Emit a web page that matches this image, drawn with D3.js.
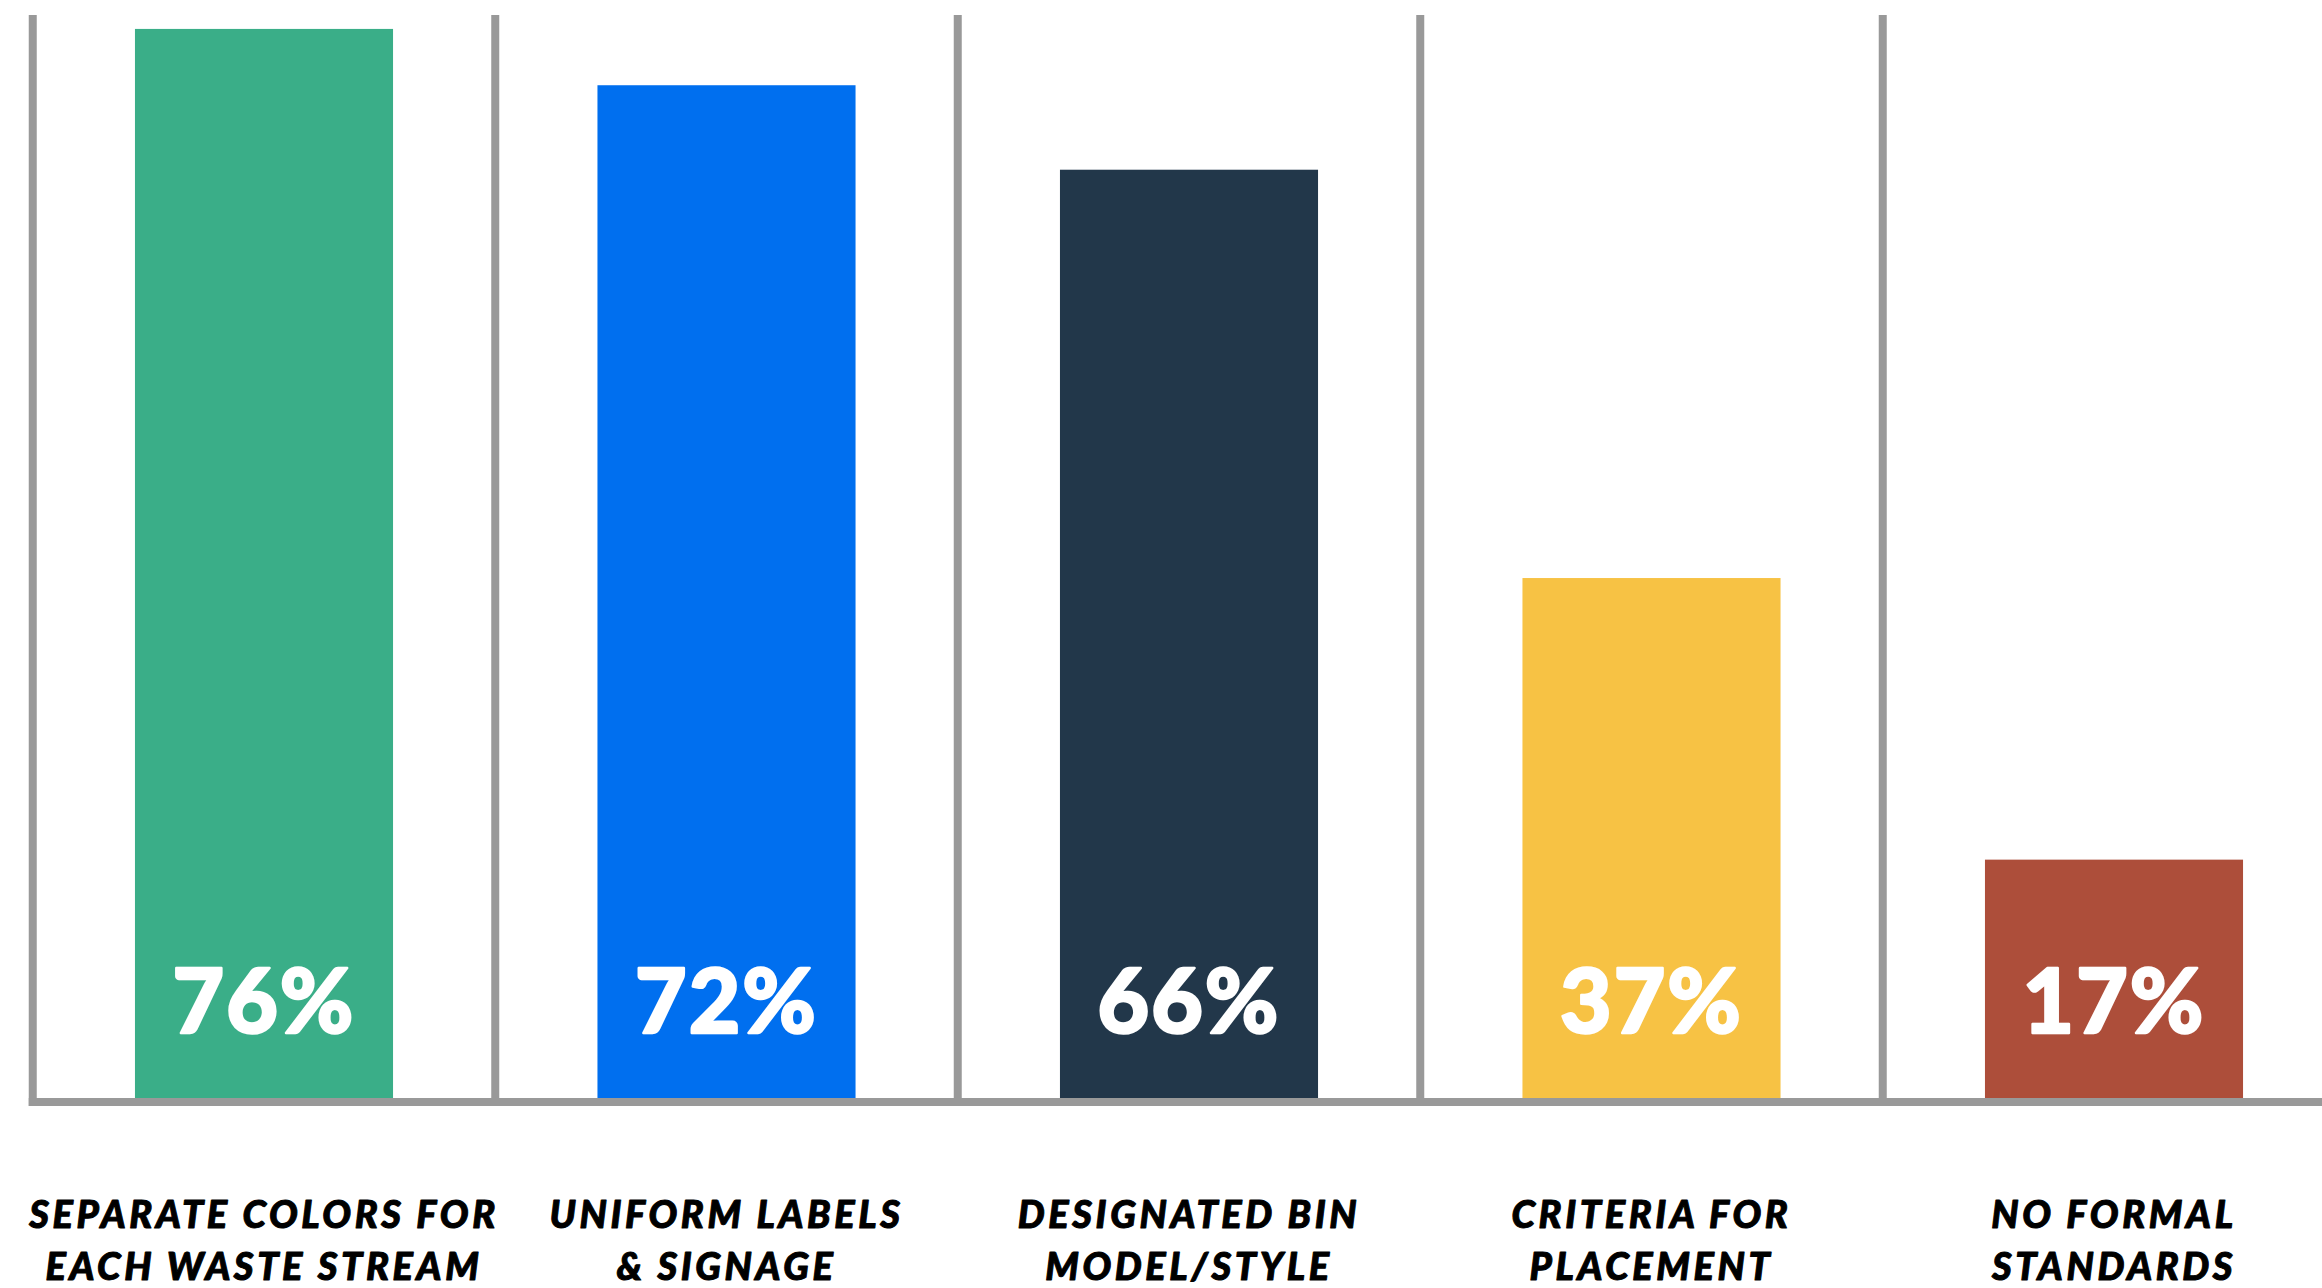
<!DOCTYPE html>
<html>
<head>
<meta charset="utf-8">
<script src="https://cdn.jsdelivr.net/npm/d3@7"></script>
<style>
  html, body { margin: 0; padding: 0; background: #ffffff; }
  svg { display: block; }
</style>
</head>
<body>
<svg id="chart" width="2322" height="1288"></svg>
<script>
// Survey responses: share of organisations with each kind of bin standard
const categories = [
  "SEPARATE COLORS FOR EACH WASTE STREAM",
  "UNIFORM LABELS & SIGNAGE",
  "DESIGNATED BIN MODEL/STYLE",
  "CRITERIA FOR PLACEMENT",
  "NO FORMAL STANDARDS"
];
const labelLines = [
  ["SEPARATE COLORS FOR", "EACH WASTE STREAM"],
  ["UNIFORM LABELS", "& SIGNAGE"],
  ["DESIGNATED BIN", "MODEL/STYLE"],
  ["CRITERIA FOR", "PLACEMENT"],
  ["NO FORMAL", "STANDARDS"]
];
const values = [76, 72, 66, 37, 17];
const colors = ["#3aae88", "#006fef", "#22374a", "#f7c244", "#ad4e3a"];

const W = 2322, H = 1288;
const baseY = 1098;     // top edge of the baseline rule
const lineTop = 15;
const gridColor = "#999999";

const svg = d3.select("#chart");

// Band scale: separators sit on band boundaries, bars centred in each band
const x = d3.scaleBand()
  .domain(categories)
  .range([32.75, 2345.25])
  .paddingInner(0.442)
  .paddingOuter(0.221);

const y = d3.scaleLinear()
  .domain([0, 100])
  .range([baseY + 1, baseY + 1 - 1408]);

const step = x.step();
const bandLeft = d => x(d) - x.paddingOuter() * step;

// Vertical separators between categories
const seps = categories.map(bandLeft);
svg.append("g")
  .selectAll("line")
  .data(seps)
  .join("line")
  .attr("x1", d => d).attr("x2", d => d)
  .attr("y1", lineTop).attr("y2", baseY + 8)
  .attr("stroke", gridColor)
  .attr("stroke-width", 8);

// Bars
svg.append("g")
  .selectAll("rect")
  .data(categories)
  .join("rect")
  .attr("x", d => x(d))
  .attr("width", x.bandwidth())
  .attr("y", (d, i) => y(values[i]))
  .attr("height", (d, i) => baseY - y(values[i]))
  .attr("fill", (d, i) => colors[i]);

// Baseline rule
svg.append("line")
  .attr("x1", seps[0] - 4).attr("x2", W)
  .attr("y1", baseY + 4).attr("y2", baseY + 4)
  .attr("stroke", gridColor)
  .attr("stroke-width", 8);

// Value labels inside the bars
svg.append("g")
  .selectAll("text")
  .data(categories)
  .join("text")
  .attr("x", d => x(d) + x.bandwidth() / 2)
  .attr("y", 1033)
  .attr("text-anchor", "middle")
  .attr("fill", "#ffffff")
  .attr("stroke", "#ffffff")
  .attr("stroke-width", 2.5)
  .attr("stroke-linejoin", "round")
  .style("font-family", "Lato, 'Open Sans', sans-serif")
  .style("font-weight", 900)
  .style("font-size", "89px")
  .style("letter-spacing", "2px")
  .text((d, i) => values[i] + "%");

// Category labels under the axis
const cat = svg.append("g")
  .selectAll("text")
  .data(categories)
  .join("text")
  .attr("x", d => x(d) + x.bandwidth() / 2)
  .attr("y", 1228)
  .attr("text-anchor", "middle")
  .attr("fill", "#000000")
  .attr("stroke", "#000000")
  .attr("stroke-width", 1)
  .attr("stroke-linejoin", "round")
  .style("font-family", "Lato, 'Open Sans', sans-serif")
  .style("font-weight", 900)
  .style("font-style", "italic")
  .style("font-size", "38px")
  .style("letter-spacing", "3.6px");

cat.selectAll("tspan")
  .data((d, i) => labelLines[i])
  .join("tspan")
  .attr("x", function () { return d3.select(this.parentNode).attr("x"); })
  .attr("dy", (d, j) => j === 0 ? 0 : 52)
  .text(d => d);
</script>
</body>
</html>
